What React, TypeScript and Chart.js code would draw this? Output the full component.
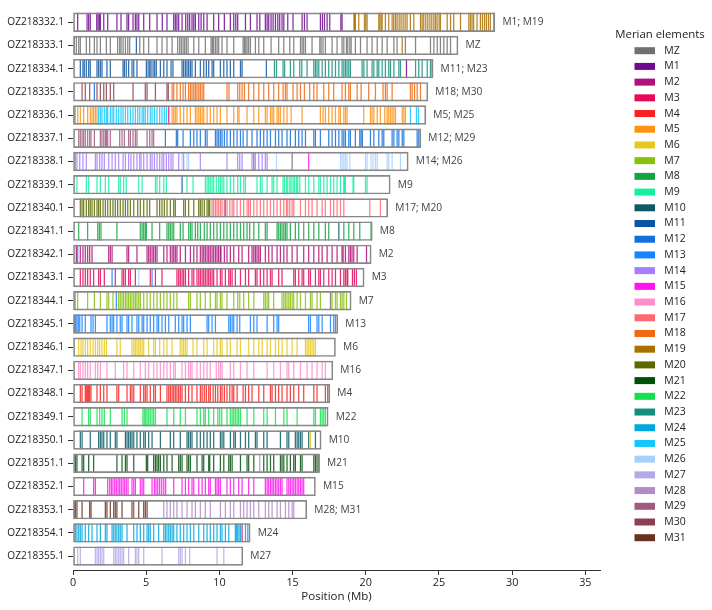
import React, { useEffect, useRef } from "react";
import { Chart, registerables } from "chart.js";
Chart.register(...registerables);

const chromosomes = ["OZ218332.1","OZ218333.1","OZ218334.1","OZ218335.1","OZ218336.1","OZ218337.1","OZ218338.1","OZ218339.1","OZ218340.1","OZ218341.1","OZ218342.1","OZ218343.1","OZ218344.1","OZ218345.1","OZ218346.1","OZ218347.1","OZ218348.1","OZ218349.1","OZ218350.1","OZ218351.1","OZ218352.1","OZ218353.1","OZ218354.1","OZ218355.1"];
const chromLengths = [28.82,26.3,24.6,24.24,24.1,23.76,22.9,21.67,21.5,20.44,20.37,19.89,19.0,18.09,17.93,17.75,17.54,17.43,16.95,16.84,16.56,15.97,12.1,11.6];
const chromLabels = ["M1; M19","MZ","M11; M23","M18; M30","M5; M25","M12; M29","M14; M26","M9","M17; M20","M8","M2","M3","M7","M13","M6","M16","M4","M22","M10","M21","M15","M28; M31","M24","M27"];
const elements = ["MZ","M1","M2","M3","M4","M5","M6","M7","M8","M9","M10","M11","M12","M13","M14","M15","M16","M17","M18","M19","M20","M21","M22","M23","M24","M25","M26","M27","M28","M29","M30","M31"];
const elementColors = ["#707070","#6e0b91","#b0107a","#e6085a","#fa2020","#ff9214","#e8c81c","#88c010","#12a540","#14f0a0","#0b5a66","#0c55a0","#1070dc","#1484ff","#a87cff","#ff14f0","#ff8ccc","#ff6a72","#f06a14","#a87000","#5a6a00","#00500c","#14e050","#10907c","#00a8e0","#14c8ff","#a8d0ff","#b0aae8","#b08cc8","#a05a80","#8c4050","#6a3020"];

const oz332_M1 = [0.32,0.96,1.07,1.18,1.62,1.71,1.8,1.87,2.1,2.37,3.0,3.28,3.69,3.8,4.1,4.26,4.37,4.49,4.83,5.24,5.74,6.1,6.42,6.88,6.99,7.1,7.22,7.45,7.7,7.84,7.97,8.13,8.25,8.36,8.59,8.75,8.93,9.16,9.61,9.95,10.34,10.75,10.98,11.12,11.25,11.78,12.12,12.57,12.76,13.14,13.26,13.37,13.53,13.67,13.83,13.99,14.12,14.28,14.4,14.67,15.03,15.65,15.81,15.99,16.9,17.04,17.18,17.36,17.54,18.3,18.38];
const oz332_M19 = [19.2,19.23,19.29,19.52,19.91,20.0,20.09,20.89,20.96,21.05,21.12,21.34,21.57,21.8,21.91,22.03,22.14,22.28,22.41,22.55,22.69,22.82,23.05,23.28,23.74,23.85,23.96,24.1,24.24,24.38,24.51,24.65,24.76,24.87,25.01,25.1,25.56,25.79,26.01,26.47,27.04,27.15,27.26,27.37,27.6,27.83,27.97,28.11,28.24,28.38,28.51,28.75];
const oz333_MZ = [0.09,0.23,0.39,0.5,0.91,1.14,1.46,1.64,1.87,2.28,2.55,3.05,3.19,3.28,3.42,3.58,3.74,3.87,4.56,4.83,5.17,5.74,6.08,6.42,6.77,7.15,7.29,7.4,7.52,7.63,7.74,7.86,8.25,8.59,9.04,9.43,9.52,9.61,9.73,9.84,9.95,10.18,10.52,10.98,11.62,11.71,11.8,11.89,12.0,12.12,12.46,12.69,13.03,13.53,14.05,14.4,14.81,15.08,15.54,15.65,15.76,15.88,16.33,16.86,16.95,17.08,17.24,17.7,18.04,18.38,18.5,18.68,18.77,18.91,19.0,19.29,19.64,20.09,20.43,20.78,21.12,21.46,21.92,22.14,22.71,23.4,24.42,24.65,24.88,25.1,25.33,25.56,25.79];
const oz333_M11 = [4.33];
const oz333_M19 = [22.49];
const oz334_M11 = [0.5,0.68,0.77,0.91,1.07,1.18,1.64,1.75,1.87,1.98,2.32,2.55,3.42,3.51,3.64,3.8,4.03,4.15,4.37,5.01,5.13,5.24,5.33,5.47,5.58,5.69,5.97,6.2,6.42,6.7,6.83,7.45,7.56,7.68,7.79,7.9,8.02,8.13,8.36,8.7,8.93,9.11,9.27,9.5,9.61,10.07,10.3,10.52,10.75,10.98,11.44,11.55,13.21];
const oz334_M23 = [13.76,13.9,14.35,14.46,14.85,15.08,15.49,15.63,15.99,16.45,16.56,16.67,16.79,17.02,17.24,17.47,17.7,17.93,18.16,18.38,18.5,18.61,18.72,18.84,18.95,19.75,19.87,20.09,20.43,20.55,20.78,20.89,21.12,21.34,21.57,21.69,21.92,22.26,22.37,23.4,23.62,23.85,24.2,24.42,24.53];
const oz334_M1 = [22.78];
const oz335_M30 = [0.62,0.84,1.14,1.64,1.87,2.1,2.28,2.55,2.78,4.1,4.94,5.06,5.63,6.42,6.51];
const oz335_M12 = [1.46];
const oz335_M18 = [6.77,6.88,7.1,7.33,7.52,7.68,7.9,8.02,8.13,8.25,8.36,8.47,8.59,8.7,8.82,8.93,10.52,10.66,11.25,11.39,11.55,11.71,12.0,12.35,12.69,13.03,13.37,13.71,14.05,14.35,14.51,14.62,15.03,15.31,15.54,15.81,16.17,16.45,16.67,17.13,17.47,17.81,18.38,18.61,18.84,18.95,19.41,19.68,20.2,20.66,21.18,21.34,21.46,21.8,23.05,23.17,23.33,23.51,23.74];
const oz336_M5 = [0.05,0.16,0.32,0.5,0.73,1.0,1.18,1.3,1.41,1.53,1.64,6.77,6.88,6.99,7.1,7.33,7.56,7.79,8.02,8.36,8.47,8.59,8.7,8.82,8.93,9.16,9.38,9.61,9.84,10.07,10.52,10.98,11.25,11.34,11.89,12.35,12.69,13.14,13.26,13.49,13.6,13.71,13.94,14.05,14.17,14.4,14.62,14.9,15.65,16.9,17.08,17.24,17.47,17.7,17.93,18.16,18.27,18.5,18.61,18.72,19.86,20.32,20.43,20.55,20.78,21.0,21.3,21.46,21.57,21.69,21.8,21.92,22.03,22.49,22.6,22.71];
const oz336_M25 = [1.75,1.87,1.98,2.14,2.28,2.37,2.55,2.67,2.78,2.96,3.12,3.28,3.42,3.58,3.74,3.92,4.1,4.26,4.42,4.56,4.72,4.83,4.94,5.1,5.28,5.4,5.56,5.74,5.92,6.08,6.24,6.38,23.05,23.46,23.6];
const oz336_M3 = [6.54];
const oz337_M29 = [0.39,0.5,0.62,0.73,0.84,1.0,1.14,1.23,1.46,1.87,1.98,2.1,2.21,2.28,2.37,2.55,3.19,3.35,3.51,3.8,3.92,4.1,4.26,4.37,5.06,5.24,5.4,5.51];
const oz337_M12 = [6.31,7.06,7.15,7.52,8.02,8.25,8.47,8.7,9.04,9.16,9.73,9.84,9.95,10.07,10.18,10.34,10.52,10.75,10.98,11.21,11.44,11.62,11.89,12.23,12.57,12.8,13.03,13.26,13.49,13.83,14.05,14.28,14.62,14.85,15.19,15.42,15.65,15.88,16.45,16.56,16.9,17.47,17.7,17.93,18.16,18.38,18.5,18.61,18.84,18.95,19.29,19.59,19.68,19.77,20.32,20.55,20.89,21.12,21.23,21.8,21.92,22.14,22.26,22.49,22.6,23.51,23.62];
const oz338_M14 = [0.16,0.27,0.46,0.68,0.91,1.53,1.64,1.82,1.98,2.14,2.44,2.67,2.89,3.12,3.42,3.58,3.8,3.96,4.15,4.37,4.56,4.65,4.83,5.06,5.28,5.4,5.56,5.74,5.92,6.08,6.2,6.38,6.54,6.7,6.83,7.22,7.56,8.7,10.52,11.25,11.39,11.55,12.23,12.46,12.69,12.92,13.14,13.26];
const oz338_M26 = [7.45,7.79,7.9,13.9,18.27,18.38,18.5,18.61,18.72,18.91,19.98,20.09,20.36,20.5,20.66,20.78,21.46,21.57,21.8,22.37];
const oz338_MZ = [12.35,14.97];
const oz338_M15 = [16.1];
const oz339_M9 = [0.27,0.91,1.07,1.64,1.87,2.21,2.44,3.12,3.23,3.46,3.64,4.49,4.72,5.63,5.74,5.92,6.2,6.38,7.79,8.2,9.04,9.16,9.27,9.38,9.5,9.61,9.79,9.95,10.07,10.18,10.3,10.52,10.75,10.98,11.25,11.44,11.66,11.78,12.57,12.8,12.92,13.26,13.6,13.71,13.94,14.35,14.44,14.58,14.67,14.81,14.9,15.03,15.13,15.26,15.35,15.49,15.88,16.1,16.45,16.79,16.9,17.13,17.36,17.59,17.81,18.04,18.27,18.5,18.54,18.61,19.13,19.18,19.98,20.09];
const oz339_M11 = [7.45];
const oz340_M20 = [0.5,0.62,0.73,0.91,1.07,1.18,1.3,1.46,1.64,1.75,1.87,2.05,2.21,2.37,2.55,2.73,2.89,3.05,3.23,3.42,3.58,3.74,3.92,4.15,4.42,4.6,4.83,5.06,5.24,5.74,5.92,6.08,6.24,6.42,6.65,6.88,6.99,7.56,7.68,7.9,8.25,8.59,8.7,8.82,8.97,9.16,9.27,9.34];
const oz340_M17 = [9.5,9.61,9.73,9.84,9.95,10.07,10.18,10.34,10.52,10.71,10.87,10.98,11.21,11.44,11.66,11.89,12.0,12.12,12.35,12.57,12.8,13.03,13.26,13.49,13.71,13.94,14.17,14.4,14.58,14.67,14.81,14.97,15.08,15.54,15.88,16.1,16.33,16.67,17.02,17.24,17.59,17.81,18.04,18.27,18.5,20.27,21.0];
const oz340_M13 = [10.41];
const oz341_M8 = [0.39,1.0,1.69,1.8,1.91,3.0,4.6,4.72,4.83,4.94,5.01,5.4,5.92,6.42,6.54,6.65,6.77,6.88,7.33,7.52,7.9,8.02,8.13,8.36,8.52,8.7,8.97,9.16,9.38,9.61,9.84,10.07,10.3,10.52,10.75,10.98,11.21,11.44,11.66,11.89,12.07,12.35,12.69,13.14,13.26,13.94,14.05,14.17,14.28,14.4,14.51,14.62,14.85,15.19,15.42,16.1,16.45,16.79,17.24,17.47,18.5,18.84,19.18,19.59,20.36];
const oz341_MZ = [15.76];
const oz341_M10 = [18.16];
const oz342_M2 = [0.23,0.5,0.68,0.84,1.0,1.14,1.3,2.44,2.55,2.67,3.69,3.8,4.37,5.06,5.17,5.28,5.4,5.51,5.63,5.74,6.2,6.42,6.65,6.77,6.88,6.99,7.1,7.33,7.68,8.02,8.25,8.47,8.7,8.82,8.93,9.04,9.16,9.27,9.38,9.5,9.61,9.73,9.84,9.95,10.07,10.34,10.52,10.75,10.98,11.32,11.55,12.0,12.23,12.35,12.46,12.57,12.69,12.8,13.14,13.37,13.6,13.94,14.17,14.4,14.62,14.97,15.31,15.76,16.1,16.45,16.79,17.02,17.36,17.7,18.04,18.38,18.45,18.61,18.84,18.95,19.06,19.18,19.41,20.05];
const oz342_M13 = [0.32];
const oz342_M12 = [10.11];
const oz343_M3 = [0.5,0.68,0.84,1.0,1.18,1.41,1.75,1.87,2.14,2.89,3.35,3.46,3.58,3.8,3.92,4.26,5.28,5.63,6.08,7.1,7.22,7.33,7.45,7.56,7.68,7.9,8.13,8.25,8.47,8.59,8.7,8.82,8.93,9.04,9.16,9.27,9.38,9.5,9.61,9.84,10.07,10.18,10.41,10.64,10.75,10.87,11.09,11.44,11.78,12.0,12.46,12.57,12.8,13.03,13.26,13.49,13.6,14.05,14.28,15.08,15.19,15.42,15.65,15.76,16.1,16.22,16.56,16.79,16.9,17.13,17.47,17.7,17.93,18.27,18.5,18.61,18.72,18.77,19.09,19.22,19.36];
const oz343_M13 = [2.67,5.4];
const oz343_M26 = [4.49];
const oz344_M7 = [0.16,0.32,1.0,1.46,1.87,2.32,2.44,2.73,3.12,3.23,3.35,3.46,3.58,3.69,3.8,3.92,4.03,4.15,4.26,4.37,4.49,4.6,4.83,5.06,5.28,5.51,5.74,5.97,6.2,6.42,6.65,6.88,7.1,7.9,8.02,8.47,8.7,9.04,9.38,9.73,9.84,10.07,10.18,10.52,10.98,11.25,11.39,11.66,12.0,12.35,13.03,13.14,13.26,13.37,13.71,14.28,14.4,14.51,14.62,14.74,14.85,14.97,15.08,15.31,15.54,15.88,16.22,16.33,16.67,16.9,17.7,17.93,18.04,18.27,18.38,18.5,18.68];
const oz344_M13 = [2.96];
const oz344_MZ = [17.59];
const oz345_M13 = [0.09,0.18,0.27,0.36,0.46,0.62,0.84,1.23,1.37,1.53,2.32,2.55,2.67,2.78,3.0,3.23,3.35,3.69,3.8,4.03,4.37,4.49,4.72,4.83,5.06,5.28,5.51,5.74,5.85,6.08,6.31,6.54,6.99,7.22,7.45,7.56,7.79,8.02,9.16,9.27,9.5,9.73,10.64,10.75,10.87,10.98,11.21,11.39,12.12,12.35,12.57,13.26,13.71,13.94,14.05,16.1,16.22,16.67,16.79,17.02,17.59,17.81,17.93];
const oz346_M6 = [0.39,0.55,0.68,0.84,1.0,1.18,1.37,1.53,1.69,1.82,1.98,2.14,2.28,3.0,3.23,4.03,4.15,4.26,4.37,4.49,4.6,4.72,4.83,5.17,5.51,5.63,5.92,6.2,6.42,6.77,7.33,7.45,7.56,7.68,7.79,8.2,8.47,8.93,9.16,9.61,9.84,10.07,10.18,10.52,10.75,11.21,11.44,12.0,12.35,12.69,12.92,13.26,13.49,13.83,14.05,14.28,14.62,14.97,15.31,15.88,15.99,16.1,16.22,16.33,16.45,16.56];
const oz347_M16 = [0.39,0.5,0.68,0.84,1.0,1.18,1.53,1.69,1.87,2.32,2.89,3.46,3.69,4.15,4.6,4.94,5.17,5.51,5.74,5.97,6.2,6.42,6.65,6.88,6.99,7.45,7.68,7.9,8.02,8.13,8.47,8.7,8.93,9.16,9.38,9.79,9.95,10.07,10.18,10.75,10.98,11.44,11.89,12.35,13.26,13.71,14.17,14.62,14.74,15.08,15.54,15.99,16.33,16.67,17.02,17.24];
const oz348_M4 = [0.5,0.62,0.84,0.91,1.0,1.07,1.14,1.23,1.64,1.87,2.1,2.32,3.0,3.12,3.69,3.92,4.03,4.15,4.6,4.83,4.94,5.06,5.28,5.51,5.63,5.97,6.42,6.54,6.65,6.77,6.88,6.99,7.1,7.22,7.33,7.45,7.68,7.9,8.13,8.47,8.7,8.82,8.97,9.11,9.27,9.38,9.57,9.73,9.89,10.07,10.18,10.34,10.52,10.71,10.87,10.98,11.21,11.62,11.78,12.0,12.23,12.69,13.03,13.49,13.6,13.83,14.05,14.28,14.62,14.85,15.08,15.42,15.76,16.45,16.67,17.24,17.4];
const oz349_M22 = [0.62,1.07,1.18,1.64,1.82,1.98,2.14,2.55,3.35,3.51,3.69,4.78,4.87,4.97,5.06,5.17,5.28,5.4,5.51,5.63,6.42,6.88,7.33,7.68,8.47,8.7,8.93,9.04,9.27,9.61,9.89,10.02,10.16,10.52,10.75,10.87,10.98,11.09,11.21,11.32,11.44,11.89,12.35,13.03,13.26,13.83,14.4,14.62,15.31,16.45,16.56,16.9,17.02,17.13,17.24];
const oz350_M10 = [0.5,0.62,1.18,1.75,1.87,1.98,2.1,2.32,2.55,2.89,3.0,3.58,3.69,3.8,3.92,4.03,4.15,4.37,4.6,4.83,4.94,5.17,5.4,5.97,6.65,6.88,7.33,7.79,7.9,8.02,8.13,8.47,8.7,8.93,9.16,9.38,9.61,10.07,10.18,10.3,10.75,10.98,11.09,11.44,11.78,12.0,12.46,12.57,13.03,13.26,14.17,14.62,14.74,15.19,15.31,15.42,15.54,15.65,16.1,16.56];
const oz350_M6 = [16.22];
const oz351_M21 = [0.16,0.27,0.62,0.73,1.07,1.41,3.0,3.35,3.58,3.69,4.15,5.01,5.1,5.51,5.63,5.74,5.85,5.97,6.2,6.42,6.77,7.22,7.33,7.45,7.79,7.9,8.02,8.47,8.82,8.93,9.27,9.34,9.61,10.07,10.3,10.64,10.75,10.87,11.44,11.89,12.0,12.35,13.03,13.26,13.49,13.71,14.17,14.28,14.4,14.62,14.85,15.08,15.19,15.54,15.65,16.45,16.56,16.67,16.79];
const oz351_M28 = [12.76];
const oz352_M15 = [0.73,1.41,1.53,2.37,2.51,2.62,2.73,2.85,2.96,3.08,3.19,3.3,3.42,3.53,3.64,3.76,4.03,4.15,4.26,4.6,4.72,4.83,5.4,5.56,5.67,5.79,5.92,6.06,6.2,6.33,6.88,7.45,7.68,7.9,8.13,8.25,8.59,8.82,9.04,9.27,9.38,9.73,9.84,9.95,10.07,10.52,10.75,10.98,11.32,11.55,12.0,12.35,13.14,13.26,13.37,13.49,13.6,13.71,13.83,13.94,14.05,14.17,14.28,14.62,14.74,14.85,14.97,15.08,15.19,15.31,15.42,15.54,15.65,15.76];
const oz353_M31 = [0.09,0.16,0.27,0.62,1.14,1.23,2.21,2.32,2.55,2.78,2.89,3.0,3.35,4.03,4.49,4.83,4.94,5.06];
const oz353_M30 = [4.15];
const oz353_M28 = [6.2,6.42,6.65,6.88,7.1,7.45,7.79,8.13,8.36,8.7,9.04,9.38,10.07,10.41,10.75,10.98,11.44,11.66,11.89,12.12,12.35,12.69,13.14,13.37,13.6,13.94,14.17,14.51,14.74,14.97,15.08];
const oz354_M24 = [0.16,0.27,0.39,0.5,0.62,0.84,1.07,1.3,1.64,1.87,2.21,2.32,2.67,2.78,2.89,3.0,3.12,3.23,3.35,3.69,4.15,4.37,4.6,4.83,5.06,5.17,5.28,5.51,5.85,6.2,6.31,6.42,6.54,6.65,6.77,6.88,7.1,7.33,7.56,7.79,8.02,8.25,8.59,8.93,9.16,9.38,9.61,9.84,10.07,10.18,10.41,10.64,11.09,11.16,11.25,11.34,11.44,11.78,11.94];
const oz354_M3 = [11.55];
const oz355_M27 = [0.32,0.5,1.53,1.64,1.75,1.87,1.98,2.1,2.78,2.89,3.0,3.12,3.23,3.35,3.46,3.8,4.26,4.37,4.49,4.83,6.08,7.22,7.33,7.45,7.68,7.97,9.84,10.3];

const tracks: [string, string, number[]][] = [
  ["OZ218332.1","M1",oz332_M1],["OZ218332.1","M19",oz332_M19],
  ["OZ218333.1","MZ",oz333_MZ],["OZ218333.1","M11",oz333_M11],["OZ218333.1","M19",oz333_M19],
  ["OZ218334.1","M11",oz334_M11],["OZ218334.1","M23",oz334_M23],["OZ218334.1","M1",oz334_M1],
  ["OZ218335.1","M30",oz335_M30],["OZ218335.1","M12",oz335_M12],["OZ218335.1","M18",oz335_M18],
  ["OZ218336.1","M5",oz336_M5],["OZ218336.1","M25",oz336_M25],["OZ218336.1","M3",oz336_M3],
  ["OZ218337.1","M29",oz337_M29],["OZ218337.1","M12",oz337_M12],
  ["OZ218338.1","M14",oz338_M14],["OZ218338.1","M26",oz338_M26],["OZ218338.1","MZ",oz338_MZ],["OZ218338.1","M15",oz338_M15],
  ["OZ218339.1","M9",oz339_M9],["OZ218339.1","M11",oz339_M11],
  ["OZ218340.1","M20",oz340_M20],["OZ218340.1","M17",oz340_M17],["OZ218340.1","M13",oz340_M13],
  ["OZ218341.1","M8",oz341_M8],["OZ218341.1","MZ",oz341_MZ],["OZ218341.1","M10",oz341_M10],
  ["OZ218342.1","M2",oz342_M2],["OZ218342.1","M13",oz342_M13],["OZ218342.1","M12",oz342_M12],
  ["OZ218343.1","M3",oz343_M3],["OZ218343.1","M13",oz343_M13],["OZ218343.1","M26",oz343_M26],
  ["OZ218344.1","M7",oz344_M7],["OZ218344.1","M13",oz344_M13],["OZ218344.1","MZ",oz344_MZ],
  ["OZ218345.1","M13",oz345_M13],
  ["OZ218346.1","M6",oz346_M6],
  ["OZ218347.1","M16",oz347_M16],
  ["OZ218348.1","M4",oz348_M4],
  ["OZ218349.1","M22",oz349_M22],
  ["OZ218350.1","M10",oz350_M10],["OZ218350.1","M6",oz350_M6],
  ["OZ218351.1","M21",oz351_M21],["OZ218351.1","M28",oz351_M28],
  ["OZ218352.1","M15",oz352_M15],
  ["OZ218353.1","M31",oz353_M31],["OZ218353.1","M30",oz353_M30],["OZ218353.1","M28",oz353_M28],
  ["OZ218354.1","M24",oz354_M24],["OZ218354.1","M3",oz354_M3],
  ["OZ218355.1","M27",oz355_M27],
];

function rgba(hex: string, a: number) {
  const n = parseInt(hex.slice(1), 16);
  return `rgba(${(n >> 16) & 255},${(n >> 8) & 255},${n & 255},${a})`;
}

const FONT = '"Open Sans", "Noto Sans", sans-serif';

const overlay = {
  id: "overlay",
  afterDatasetsDraw(chart: any) {
    const { ctx } = chart;
    const xs = chart.scales.x;
    const ys = chart.scales.y;
    ctx.save();
    ctx.font = `10.2px ${FONT}`;
    ctx.fillStyle = "#444";
    ctx.textAlign = "left";
    ctx.textBaseline = "middle";
    chromosomes.forEach((c, i) => {
      ctx.fillText(chromLabels[i], xs.getPixelForValue(chromLengths[i]) + 7.5, ys.getPixelForValue(i));
    });
    // legend
    ctx.fillStyle = "#222";
    ctx.font = `11.4px ${FONT}`;
    ctx.textAlign = "center";
    ctx.fillText("Merian elements", 660, 35);
    ctx.font = `10.5px ${FONT}`;
    ctx.textAlign = "left";
    elements.forEach((el, k) => {
      const cy = 50.7 + k * 15.71;
      ctx.fillStyle = elementColors[k];
      ctx.fillRect(634.5, cy - 3.5, 20.5, 7);
      ctx.fillStyle = "#222";
      ctx.fillText(el, 664.3, cy);
    });
    ctx.restore();
  },
};

export default function App() {
  const ref = useRef<HTMLCanvasElement | null>(null);
  useEffect(() => {
    if (!ref.current) return;
    const lineSets = elements.map((el, k) => ({
      type: "scatter" as const,
      label: el,
      data: tracks
        .filter((t) => t[1] === el)
        .flatMap((t) => t[2].map((x) => ({ x, y: chromosomes.indexOf(t[0]) }))),
      pointStyle: "line",
      pointRotation: 90,
      pointRadius: 9.35,
      pointHoverRadius: 9.35,
      pointHitRadius: 0,
      pointBorderWidth: 1.25,
      pointBorderColor: rgba(elementColors[k], 0.85),
      pointBackgroundColor: rgba(elementColors[k], 0.85),
      showLine: false,
      order: 2,
    }));
    const barData = chromosomes.map((c, i) => ({ x: [0, chromLengths[i]], y: i }));
    const chart = new Chart(ref.current, {
      type: "bar",
      data: {
        datasets: [
          {
            type: "bar",
            label: "fill",
            indexAxis: "y",
            data: barData as any,
            backgroundColor: "#ffffff",
            borderWidth: 0,
            barThickness: 18.7,
            grouped: false,
            order: 3,
          } as any,
          ...(lineSets as any),
          {
            type: "bar",
            label: "outline",
            indexAxis: "y",
            data: barData as any,
            backgroundColor: "rgba(0,0,0,0)",
            borderColor: "#888888",
            borderWidth: 1,
            borderSkipped: false,
            barThickness: 18.7,
            grouped: false,
            order: 1,
          } as any,
        ],
      },
      options: {
        animation: false,
        responsive: true,
        maintainAspectRatio: false,
        events: [],
        layout: { padding: { left: 0, right: 112, top: 5.2, bottom: 0 } },
        plugins: { legend: { display: false }, tooltip: { enabled: false } },
        scales: {
          x: {
            type: "linear",
            min: 0,
            max: 36,
            offset: false,
            afterBuildTicks: (s: any) => {
              s.ticks = [0, 5, 10, 15, 20, 25, 30, 35].map((v) => ({ value: v }));
            },
            afterFit: (s: any) => {
              s.height = 40;
            },
            ticks: { color: "#222", font: { family: FONT, size: 10.8 }, padding: 1, maxRotation: 0 },
            grid: { display: true, offset: false, drawOnChartArea: false, drawTicks: true, tickLength: 5, color: "#333" },
            border: { display: true, color: "#333", width: 1 },
            title: { display: true, text: "Position (Mb)", color: "#222", font: { family: FONT, size: 11.5 }, padding: { top: 0, bottom: 6.3 } },
          },
          y: {
            type: "linear",
            reverse: true,
            min: -0.5,
            max: 23.6,
            offset: false,
            afterBuildTicks: (s: any) => {
              s.ticks = chromosomes.map((c, i) => ({ value: i }));
            },
            afterFit: (s: any) => {
              s.width = 73;
            },
            ticks: {
              color: "#222",
              font: { family: FONT, size: 10.1 },
              padding: 4,
              callback: (v: any) => chromosomes[Math.round(Number(v))] ?? "",
            },
            grid: { display: true, offset: false, drawOnChartArea: false, drawTicks: true, tickLength: 5, color: "#333" },
            border: { display: false },
          },
        },
      },
      plugins: [overlay],
    } as any);
    return () => chart.destroy();
  }, []);
  return (
    <div style={{ position: "absolute", left: 0, top: 0, width: 712, height: 610, background: "#fff" }}>
      <canvas ref={ref} />
    </div>
  );
}
